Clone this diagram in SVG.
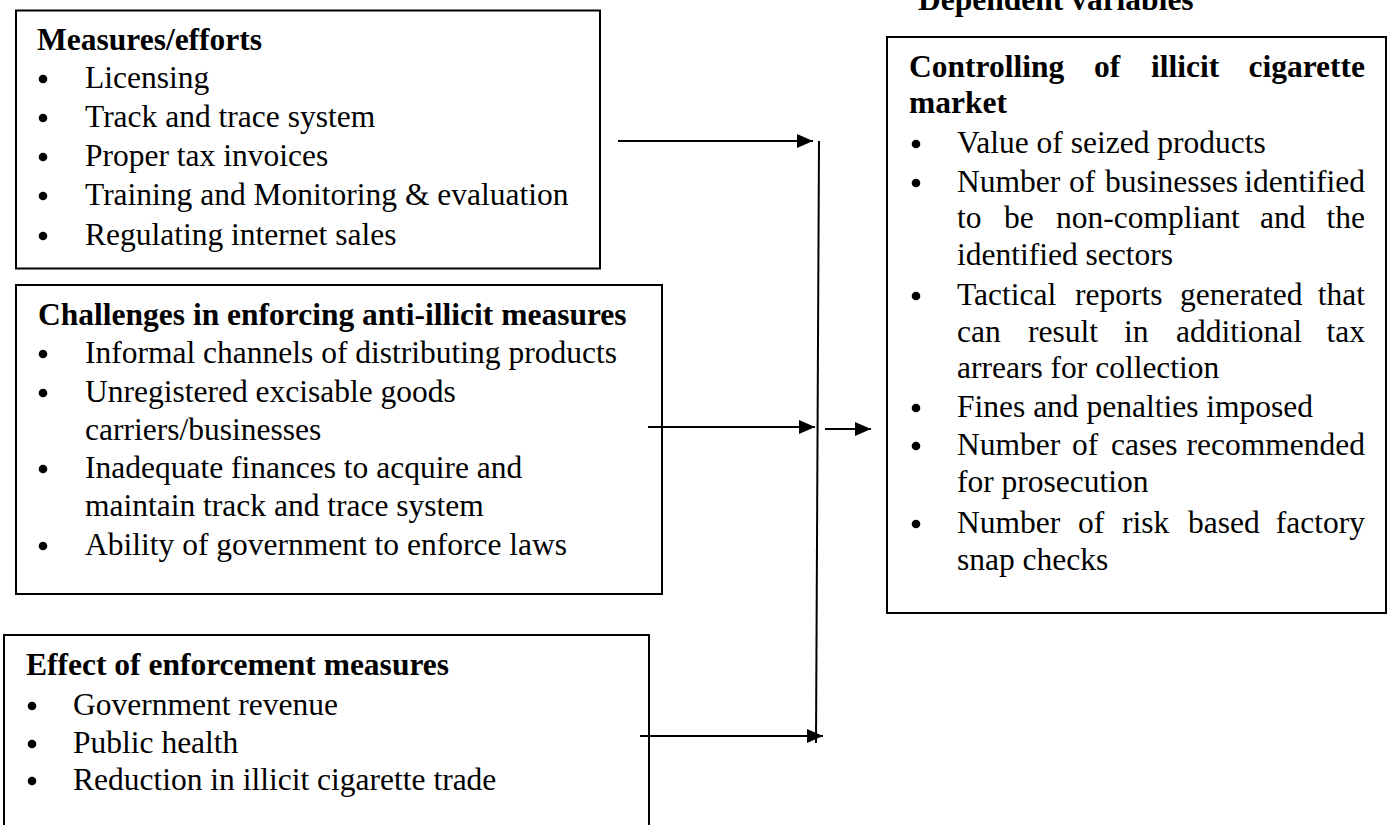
<svg xmlns="http://www.w3.org/2000/svg" width="1391" height="825" viewBox="0 0 1391 825">
<defs>
<style>
.box{fill:#fff;stroke:#000;stroke-width:2}
.t{font-family:"Liberation Serif","Times New Roman",serif;font-size:31.5px;fill:#000}
.b{font-weight:bold}
.end{text-anchor:end}
.dot{fill:#000}
.con{stroke:#000;stroke-width:2;fill:none}
</style>
<marker id="ah" markerUnits="userSpaceOnUse" markerWidth="16" markerHeight="14" refX="16" refY="7" orient="auto">
<path d="M0,0 L16,7 L0,14 z" fill="#000"/>
</marker>
</defs>
<rect width="1391" height="825" fill="#fff"/>

<g id="measures">
<rect class="box" x="16" y="10.5" width="584" height="258"/>
<text class="t b" x="37" y="50">Measures/efforts</text>
<circle class="dot" cx="43" cy="79" r="4.3"/><text class="t" x="85" y="88">Licensing</text>
<circle class="dot" cx="43" cy="118" r="4.3"/><text class="t" x="85" y="127">Track and trace system</text>
<circle class="dot" cx="43" cy="157" r="4.3"/><text class="t" x="85" y="166">Proper tax invoices</text>
<circle class="dot" cx="43" cy="196" r="4.3"/><text class="t" x="85" y="205">Training and Monitoring &amp; evaluation</text>
<circle class="dot" cx="43" cy="236" r="4.3"/><text class="t" x="85" y="245">Regulating internet sales</text>
</g>

<g id="challenges">
<rect class="box" x="16" y="285" width="646" height="309"/>
<text class="t b" x="38" y="325">Challenges in enforcing anti-illicit measures</text>
<circle class="dot" cx="43" cy="354" r="4.3"/><text class="t" x="85" y="363">Informal channels of distributing products</text>
<circle class="dot" cx="43" cy="393" r="4.3"/><text class="t" x="85" y="402">Unregistered excisable goods</text>
<text class="t" x="85" y="440">carriers/businesses</text>
<circle class="dot" cx="43" cy="469" r="4.3"/><text class="t" x="85" y="478">Inadequate finances to acquire and</text>
<text class="t" x="85" y="516">maintain track and trace system</text>
<circle class="dot" cx="43" cy="546" r="4.3"/><text class="t" x="85" y="555">Ability of government to enforce laws</text>
</g>

<g id="effect">
<rect class="box" x="4" y="635" width="645" height="200"/>
<text class="t b" x="26" y="675">Effect of enforcement measures</text>
<circle class="dot" cx="32" cy="706" r="4.3"/><text class="t" x="73" y="715">Government revenue</text>
<circle class="dot" cx="32" cy="744" r="4.3"/><text class="t" x="73" y="753">Public health</text>
<circle class="dot" cx="32" cy="781" r="4.3"/><text class="t" x="73" y="790">Reduction in illicit cigarette trade</text>
</g>

<g id="dependent-label">
<text class="t b" x="918" y="10">Dependent variables</text>
</g>

<g id="controlling">
<rect class="box" x="887" y="37" width="499" height="576"/>
<text class="t b" y="77"><tspan x="909">Controlling</tspan><tspan x="1094">of</tspan><tspan x="1151">illicit</tspan></text>
<text class="t b end" x="1365" y="77">cigarette</text>
<text class="t b" x="909" y="113">market</text>

<circle class="dot" cx="916" cy="144" r="4.3"/><text class="t" x="957" y="153">Value of seized products</text>

<circle class="dot" cx="916" cy="183" r="4.3"/>
<text class="t" y="192"><tspan x="957">Number</tspan><tspan x="1069">of</tspan><tspan x="1105">businesses</tspan></text>
<text class="t end" x="1365" y="192">identified</text>
<text class="t" y="228"><tspan x="957">to</tspan><tspan x="1004">be</tspan><tspan x="1056">non-compliant</tspan><tspan x="1260">and</tspan></text>
<text class="t end" x="1365" y="228">the</text>
<text class="t" x="957" y="265">identified sectors</text>

<circle class="dot" cx="916" cy="296" r="4.3"/>
<text class="t" y="305"><tspan x="957">Tactical</tspan><tspan x="1075">reports</tspan><tspan x="1180">generated</tspan></text>
<text class="t end" x="1365" y="305">that</text>
<text class="t" y="342"><tspan x="957">can</tspan><tspan x="1028">result</tspan><tspan x="1124">in</tspan><tspan x="1176">additional</tspan></text>
<text class="t end" x="1365" y="342">tax</text>
<text class="t" x="957" y="378">arrears for collection</text>

<circle class="dot" cx="916" cy="408" r="4.3"/><text class="t" x="957" y="417">Fines and penalties imposed</text>

<circle class="dot" cx="916" cy="446" r="4.3"/>
<text class="t" y="455"><tspan x="957">Number</tspan><tspan x="1072">of</tspan><tspan x="1111">cases</tspan></text>
<text class="t end" x="1365" y="455">recommended</text>
<text class="t" x="957" y="492">for prosecution</text>

<circle class="dot" cx="916" cy="524" r="4.3"/>
<text class="t" y="533"><tspan x="957">Number</tspan><tspan x="1078">of</tspan><tspan x="1122">risk</tspan><tspan x="1188">based</tspan></text>
<text class="t end" x="1365" y="533">factory</text>
<text class="t" x="957" y="570">snap checks</text>
</g>

<g id="connectors">
<line class="con" x1="618" y1="141" x2="813" y2="141" marker-end="url(#ah)"/>
<line class="con" x1="648" y1="427" x2="815" y2="427" marker-end="url(#ah)"/>
<line class="con" x1="640" y1="736" x2="823" y2="736" marker-end="url(#ah)"/>
<line class="con" x1="819" y1="141" x2="816" y2="743"/>
<line class="con" x1="825" y1="429" x2="871" y2="429" marker-end="url(#ah)"/>
</g>
</svg>
